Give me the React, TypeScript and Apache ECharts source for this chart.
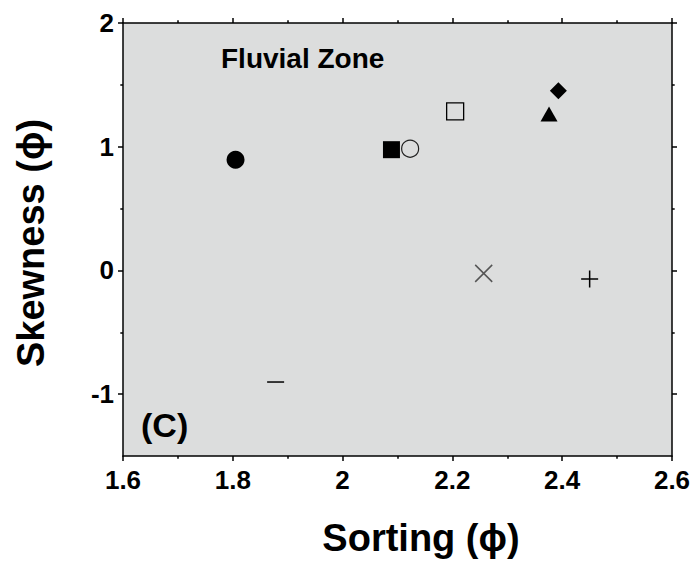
import React, { useEffect, useRef } from "react";
import * as echarts from "echarts";

// Sorting (phi) and Skewness (phi) per sample
const sortingPhi = [1.805, 2.089, 2.123, 2.205, 2.376, 2.393, 2.257, 2.45, 1.878];
const skewnessPhi = [0.895, 0.976, 0.984, 1.285, 1.265, 1.453, -0.024, -0.07, -0.902];
const sampleMarkers = [
  "filledCircle",
  "filledSquare",
  "openCircle",
  "openSquare",
  "filledTriangle",
  "filledDiamond",
  "cross",
  "plus",
  "dash",
];
const yMajorTicks = [-1, 0, 1, 2];
const yMinorTicks = [-0.5, 0.5, 1.5];

const FONT = "'Liberation Sans', Arial, Helvetica, sans-serif";
const PLOT_BG = "#dcdddd";

const markerStyles: Record<string, any> = {
  filledCircle: { symbol: "circle", symbolSize: 18, itemStyle: { color: "#000", opacity: 1 } },
  filledSquare: { symbol: "rect", symbolSize: 17, itemStyle: { color: "#000", opacity: 1 } },
  openCircle: {
    symbol: "circle",
    symbolSize: 17,
    itemStyle: { color: PLOT_BG, borderColor: "#222", borderWidth: 1.2, opacity: 1 },
  },
  openSquare: {
    symbol: "rect",
    symbolSize: 17,
    itemStyle: { color: PLOT_BG, borderColor: "#000", borderWidth: 1.3, opacity: 1 },
  },
  filledTriangle: { symbol: "triangle", symbolSize: [17, 15], itemStyle: { color: "#000", opacity: 1 } },
  filledDiamond: { symbol: "diamond", symbolSize: 17, itemStyle: { color: "#000", opacity: 1 } },
  cross: {
    symbol: "path://M0,0L10,10M10,0L0,10",
    symbolSize: 17,
    itemStyle: { color: "rgba(0,0,0,0)", borderColor: "#555", borderWidth: 1.5, opacity: 1 },
  },
  plus: {
    symbol: "path://M5,0L5,10M0,5L10,5",
    symbolSize: 17,
    itemStyle: { color: "rgba(0,0,0,0)", borderColor: "#000", borderWidth: 1.5, opacity: 1 },
  },
  dash: { symbol: "rect", symbolSize: [17, 1.5], itemStyle: { color: "#000", opacity: 1 } },
};

const lineStyle = { color: "#000", width: 1.5 };

export default function App() {
  const ref = useRef<HTMLDivElement>(null);

  useEffect(() => {
    if (!ref.current) return;
    const chart = echarts.init(ref.current, null, { renderer: "svg" });

    const xAxisBase = (position: "bottom" | "top", showLabel: boolean) => ({
      type: "value",
      position,
      min: 1.6,
      max: 2.6,
      interval: 0.2,
      axisLine: { show: true, onZero: false, lineStyle },
      axisTick: { show: true, inside: false, length: 5, lineStyle },
      minorTick: { show: true, splitNumber: 2, length: 2.7, lineStyle },
      splitLine: { show: false },
      minorSplitLine: { show: false },
      axisLabel: {
        show: showLabel,
        fontSize: 26,
        fontWeight: "bold",
        fontFamily: FONT,
        color: "#000",
        margin: 11,
        formatter: (v: number) => String(+v.toFixed(1)),
      },
    });

    const yAxisMain = (position: "left" | "right", showLabel: boolean) => ({
      type: "value",
      position,
      min: -1.5,
      max: 2,
      interval: 0.5,
      axisLine: { show: true, onZero: false, lineStyle },
      axisTick: { show: true, inside: false, length: 5, lineStyle, customValues: yMajorTicks },
      splitLine: { show: false },
      axisLabel: {
        show: showLabel,
        customValues: yMajorTicks,
        fontSize: 26,
        fontWeight: "bold",
        fontFamily: FONT,
        color: "#000",
        margin: 9,
      },
    });

    const yAxisMinor = (position: "left" | "right") => ({
      type: "value",
      position,
      min: -1.5,
      max: 2,
      interval: 0.5,
      axisLine: { show: false },
      axisTick: { show: true, inside: false, length: 2.7, lineStyle, customValues: yMinorTicks },
      splitLine: { show: false },
      axisLabel: { show: false },
    });

    const series = sortingPhi.map((x, i) => ({
      type: "scatter",
      name: sampleMarkers[i],
      xAxisIndex: 0,
      yAxisIndex: 0,
      data: [[x, skewnessPhi[i]]],
      ...markerStyles[sampleMarkers[i]],
      emphasis: { disabled: true },
      z: 5,
    }));

    chart.setOption({
      animation: false,
      grid: {
        left: 123,
        right: 28,
        top: 23,
        bottom: 109,
        show: true,
        backgroundColor: PLOT_BG,
        borderWidth: 0,
        containLabel: false,
        outerBoundsMode: "none",
      },
      xAxis: [xAxisBase("bottom", true), xAxisBase("top", false)],
      yAxis: [yAxisMain("left", true), yAxisMinor("left"), yAxisMain("right", false), yAxisMinor("right")],
      series,
      graphic: [
        {
          type: "text",
          x: 221,
          y: 58,
          z: 10,
          style: {
            text: "Fluvial Zone",
            fontSize: 28,
            fontWeight: "bold",
            fontFamily: FONT,
            fill: "#000",
            align: "left",
            verticalAlign: "middle",
          },
        },
        {
          type: "text",
          x: 141,
          y: 425,
          z: 10,
          style: {
            text: "(C)",
            fontSize: 34,
            fontWeight: "bold",
            fontFamily: FONT,
            fill: "#000",
            align: "left",
            verticalAlign: "middle",
          },
        },
        {
          type: "text",
          x: 421,
          y: 538,
          z: 10,
          style: {
            text: "Sorting (ϕ)",
            fontSize: 38,
            fontWeight: "bold",
            fontFamily: FONT,
            fill: "#000",
            align: "center",
            verticalAlign: "middle",
          },
        },
        {
          type: "text",
          x: 31,
          y: 243,
          rotation: Math.PI / 2,
          z: 10,
          style: {
            text: "Skewness (ϕ)",
            fontSize: 38,
            fontWeight: "bold",
            fontFamily: FONT,
            fill: "#000",
            align: "center",
            verticalAlign: "middle",
          },
        },
      ],
    });

    return () => chart.dispose();
  }, []);

  return (
    <div
      ref={ref}
      style={{ position: "absolute", left: 0, top: 0, width: 700, height: 565, background: "#fff" }}
    />
  );
}
